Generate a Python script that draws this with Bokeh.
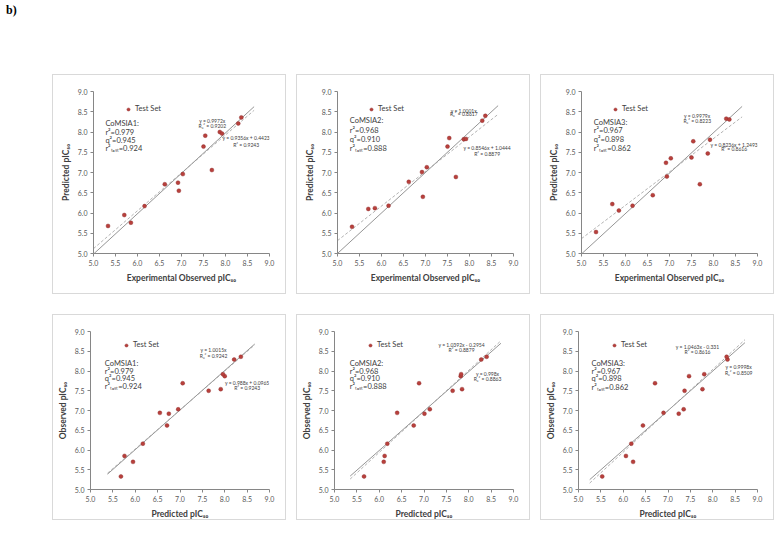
import numpy as np
from bokeh.plotting import figure
from bokeh.models import Range1d, FixedTicker, PrintfTickFormatter, Label, Legend, LegendItem, Div
from bokeh.layouts import row, column
from bokeh.embed import file_html
from bokeh.resources import INLINE

# ---------------- data ----------------
observed = [5.33, 5.70, 5.85, 6.16, 6.62, 6.92, 6.94, 7.03, 7.50, 7.54, 7.69, 7.87, 7.92, 8.29, 8.36]
pred_comsia1 = [5.68, 5.95, 5.76, 6.17, 6.71, 6.75, 6.55, 6.96, 7.64, 7.91, 7.06, 8.00, 7.96, 8.21, 8.36]
pred_comsia2 = [5.66, 6.10, 6.12, 6.18, 6.77, 7.01, 6.40, 7.13, 7.64, 7.85, 6.89, 7.82, 7.83, 8.28, 8.40]
pred_comsia3 = [5.53, 6.22, 6.06, 6.18, 6.44, 7.24, 6.90, 7.35, 7.37, 7.77, 6.71, 7.47, 7.81, 8.33, 8.31]
predicted = [pred_comsia1, pred_comsia2, pred_comsia3]

model_names = ["CoMSIA1:", "CoMSIA2:", "CoMSIA3:"]
r2_values = ["0.979", "0.968", "0.967"]
q2_values = ["0.945", "0.910", "0.898"]
r2test_values = ["0.924", "0.888", "0.862"]

# top row: predicted vs experimental
top_origin_slope = [0.9972, 1.0001, 0.9979]
top_origin_r2 = ["0.9202", "0.8617", "0.8223"]
top_reg_slope = [0.9356, 0.8546, 0.8236]
top_reg_int = [0.4423, 1.0444, 1.2493]
top_reg_r2 = ["0.9243", "0.8879", "0.8616"]
top_line_x = [[5.0, 8.65], [5.0, 8.65], [5.0, 8.65]]

# bottom row: observed vs predicted
bot_origin_slope = [1.0015, 0.998, 0.9998]
bot_origin_r2 = ["0.9242", "0.8863", "0.8509"]
bot_reg_slope = [0.988, 1.0392, 1.0463]
bot_reg_int = [0.0965, -0.2954, -0.331]
bot_reg_r2 = ["0.9243", "0.8879", "0.8616"]
bot_line_x = [[5.38, 8.67], [5.35, 8.72], [5.25, 8.72]]

tick_values = [5.0, 5.5, 6.0, 6.5, 7.0, 7.5, 8.0, 8.5, 9.0]
series_label = "Test Set"

# ---------------- layout / style ----------------
FONT = "Lato"
TXT = "#404040"
AX = "#868686"
PT_FILL = "#b8403c"
PT_LINE = "#8c2b2b"

# per-panel text positions (data coords)
top_stats_pos = [(5.27, [8.21, 8.00, 7.79, 7.59]), (5.28, [8.29, 8.03, 7.81, 7.60]), (5.28, [8.23, 8.03, 7.81, 7.60])]
top_eq_origin_pos = [(7.70, 8.28, 8.15), (7.87, 8.53, 8.44), (7.63, 8.39, 8.27)]
top_eq_reg_pos = [(8.47, 7.84, 7.69), (8.40, 7.60, 7.46), (8.47, 7.69, 7.57)]
bot_stats_pos = [(5.32, [8.19, 8.00, 7.81, 7.62]), (5.34, [8.19, 8.00, 7.81, 7.62]), (5.29, [8.19, 8.00, 7.80, 7.59])]
bot_eq_origin_pos = [(7.75, 8.53, 8.39), (8.42, 7.92, 7.81), (8.58, 8.11, 7.96)]
bot_eq_reg_pos = [(8.50, 7.69, 7.56), (7.84, 8.67, 8.54), (7.66, 8.61, 8.47)]


def fmt_eq(slope, intercept=None):
    s = f"y = {slope:g}x"
    if intercept is not None:
        sign = "+" if intercept >= 0 else "-"
        s += f" {sign} {abs(intercept):g}"
    return s


def make_panel(xs, ys, xlabel, ylabel, idx, line_x, o_slope, o_r2, r_slope, r_int, r_r2,
               stats_pos, eq_o_pos, eq_r_pos, height, bottom_border, left_border, legend_loc):
    p = figure(width=234, height=height, output_backend="svg", toolbar_location=None,
               x_range=Range1d(5.0, 9.0), y_range=Range1d(5.0, 9.0),
               min_border_left=left_border, min_border_right=18, min_border_top=16,
               min_border_bottom=bottom_border, background_fill_color="white",
               border_fill_color="white")
    p.styles = {"border": "1px solid #d9d9d9", "box-sizing": "border-box"}
    p.outline_line_color = None
    p.grid.visible = False
    for ax in (p.xaxis[0], p.yaxis[0]):
        ax.ticker = FixedTicker(ticks=tick_values)
        ax.formatter = PrintfTickFormatter(format="%.1f")
        ax.axis_line_color = AX
        ax.major_tick_line_color = AX
        ax.major_tick_out = 3
        ax.major_tick_in = 0
        ax.minor_tick_line_color = None
        ax.major_label_text_font = FONT
        ax.major_label_text_font_size = "7px"
        ax.major_label_text_color = "#595959"
        ax.major_label_standoff = 3
        ax.axis_label_text_font = FONT
        ax.axis_label_text_font_size = "8.5px"
        ax.axis_label_text_font_style = "bold"
        ax.axis_label_text_color = TXT
        ax.axis_label_standoff = 4
    p.xaxis.axis_label = xlabel
    p.yaxis.axis_label = ylabel

    lx = np.array(line_x[idx])
    p.line(lx, o_slope[idx] * lx, line_color="#7a7a7a", line_width=0.8)
    p.line(lx, r_slope[idx] * lx + r_int[idx], line_color="#a0a0a0", line_width=0.8, line_dash="3 2")

    r = p.scatter(xs, ys, size=4, fill_color=PT_FILL, line_color=PT_LINE, line_width=0.4)

    leg = Legend(items=[LegendItem(label=series_label, renderers=[r])], location=legend_loc,
                 glyph_width=8, glyph_height=8, padding=0, margin=0, label_standoff=3,
                 background_fill_alpha=0, border_line_color=None,
                 label_text_font=FONT, label_text_font_size="7.5px", label_text_color=TXT,
                 label_height=9)
    p.add_layout(leg, "center")

    sx, sys_ = stats_pos[idx]
    lines = [model_names[idx], "r\u00b2=" + r2_values[idx], "q\u00b2=" + q2_values[idx],
             "r\u00b2\u209c\u2091\u209b\u209c=" + r2test_values[idx]]
    for t, yy in zip(lines, sys_):
        p.add_layout(Label(x=sx, y=yy, text=t, text_font=FONT, text_font_size="7.5px",
                           text_color=TXT, text_baseline="middle"))

    ex, ey1, ey2 = eq_o_pos[idx]
    p.add_layout(Label(x=ex, y=ey1, text=fmt_eq(o_slope[idx]), text_font=FONT, text_font_size="5px",
                       text_color=TXT, text_align="center", text_baseline="middle"))
    p.add_layout(Label(x=ex, y=ey2, text="R\u2080\u00b2 = " + o_r2[idx], text_font=FONT, text_font_size="5px",
                       text_color=TXT, text_align="center", text_baseline="middle"))
    ex, ey1, ey2 = eq_r_pos[idx]
    p.add_layout(Label(x=ex, y=ey1, text=fmt_eq(r_slope[idx], r_int[idx]), text_font=FONT, text_font_size="5px",
                       text_color=TXT, text_align="center", text_baseline="middle"))
    p.add_layout(Label(x=ex, y=ey2, text="R\u00b2 = " + r_r2[idx], text_font=FONT, text_font_size="5px",
                       text_color=TXT, text_align="center", text_baseline="middle"))
    return p


top_panels = []
bot_panels = []
top_legend_locs = [(31, 140), (30, 140), (30, 140)]
bot_legend_locs = [(32, 140), (32, 140), (32, 140)]
for i in range(3):
    top_panels.append(make_panel(observed, predicted[i], "Experimental Observed pIC\u2085\u2080", "Predicted pIC\u2085\u2080",
                                 i, top_line_x, top_origin_slope, top_origin_r2, top_reg_slope, top_reg_int, top_reg_r2,
                                 top_stats_pos, top_eq_origin_pos, top_eq_reg_pos, 220, 42, 40, top_legend_locs[i]))
    bot_panels.append(make_panel(predicted[i], observed, "Predicted pIC\u2085\u2080", "Observed pIC\u2085\u2080",
                                 i, bot_line_x, bot_origin_slope, bot_origin_r2, bot_reg_slope, bot_reg_int, bot_reg_r2,
                                 bot_stats_pos, bot_eq_origin_pos, bot_eq_reg_pos, 206, 28, 37, bot_legend_locs[i]))

top_panels[0].margin = (0, 0, 0, 52)
top_panels[1].margin = (0, 0, 0, 10)
top_panels[2].margin = (0, 0, 0, 10)
bot_panels[0].margin = (0, 0, 0, 52)
bot_panels[1].margin = (0, 0, 0, 10)
bot_panels[2].margin = (0, 0, 0, 10)

label_div = Div(text="<b>b)</b>", width=40, height=16,
                styles={"font-family": "Liberation Serif", "font-size": "12px", "color": "#000"},
                margin=(2, 0, 0, 6))
row1 = row(*top_panels, margin=(56, 0, 0, 0))
row2 = row(*bot_panels, margin=(20, 0, 0, 0))
layout = column(label_div, row1, row2)

open("out.html", "w").write(file_html(layout, INLINE))
